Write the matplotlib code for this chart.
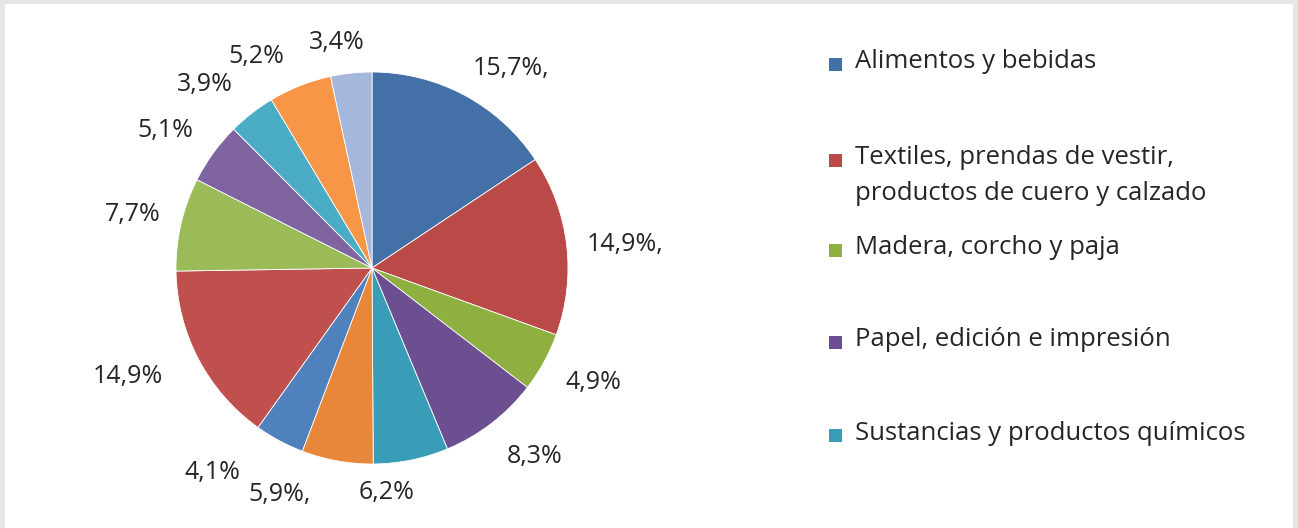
import matplotlib.pyplot as plt
from matplotlib.patches import Rectangle

# Data: slices clockwise from 12 o'clock
values = [15.7, 14.9, 4.9, 8.3, 6.2, 5.9, 4.1, 14.9, 7.7, 5.1, 3.9, 5.2, 3.4]
labels = ["15,7%,", "14,9%,", "4,9%", "8,3%", "6,2%", "5,9%,", "4,1%",
          "14,9%", "7,7%", "5,1%", "3,9%", "5,2%", "3,4%"]
colors = ["#4470a8", "#b94a47", "#8db041", "#6c4f91", "#3a9db8", "#e8873a",
          "#4f81bd", "#c0504d", "#9bbb59", "#8064a2", "#4bacc6", "#f79646",
          "#a5b8dc"]

# Legend (only the first five categories fit in the original)
legend_names = ["Alimentos y bebidas",
                "Textiles, prendas de vestir,\nproductos de cuero y calzado",
                "Madera, corcho y paja",
                "Papel, edición e impresión",
                "Sustancias y productos químicos"]

# layout (pixels from top-left), taken from the original
label_xy = [(511, 68), (625, 245), (593, 382), (535, 457), (387, 493),
            (280, 495), (212, 473), (128, 377), (133, 215), (165, 130),
            (205, 85), (256, 57), (337, 42)]
legend_y = [62, 158, 248, 340, 433]

plt.rcParams['font.family'] = ['Open Sans', 'DejaVu Sans']

W, H = 1298, 528
fig = plt.figure(figsize=(W / 100, H / 100), dpi=100)
fig.patch.set_facecolor("#e6e6e6")

# axes = white panel, data coordinates are figure pixels
x0, x1, y0, y1 = 5, 1293, 0, H - 4
ax = fig.add_axes([x0 / W, y0 / H, (x1 - x0) / W, (y1 - y0) / H])

wedges, texts = ax.pie(values, colors=colors,
                       startangle=90, counterclock=False,
                       center=(372, H - 268), radius=196,
                       wedgeprops=dict(edgecolor="white", linewidth=0.6))

for lab, (lx, ly) in zip(labels, label_xy):
    ax.text(lx, H - ly, lab, fontsize=18, color="#262626",
            ha="center", va="center")

ax.set_xlim(x0, x1)
ax.set_ylim(y0, y1)
ax.set_aspect("auto")
ax.set_frame_on(True)
ax.set_facecolor("white")
for s in ax.spines.values():
    s.set_visible(False)
ax.set_xticks([])
ax.set_yticks([])

# legend drawn by hand so the squares sit on the first text line
for i, name in enumerate(legend_names):
    yc = H - legend_y[i]
    ax.add_patch(Rectangle((829, yc - 8.5), 13, 13, facecolor=colors[i],
                           edgecolor="none"))
    for j, line in enumerate(name.split("\n")):
        ax.text(855, yc - 36 * j, line, fontsize=18.5, color="#262626",
                ha="left", va="center")

fig.savefig("out.png", dpi=100, facecolor=fig.get_facecolor())
